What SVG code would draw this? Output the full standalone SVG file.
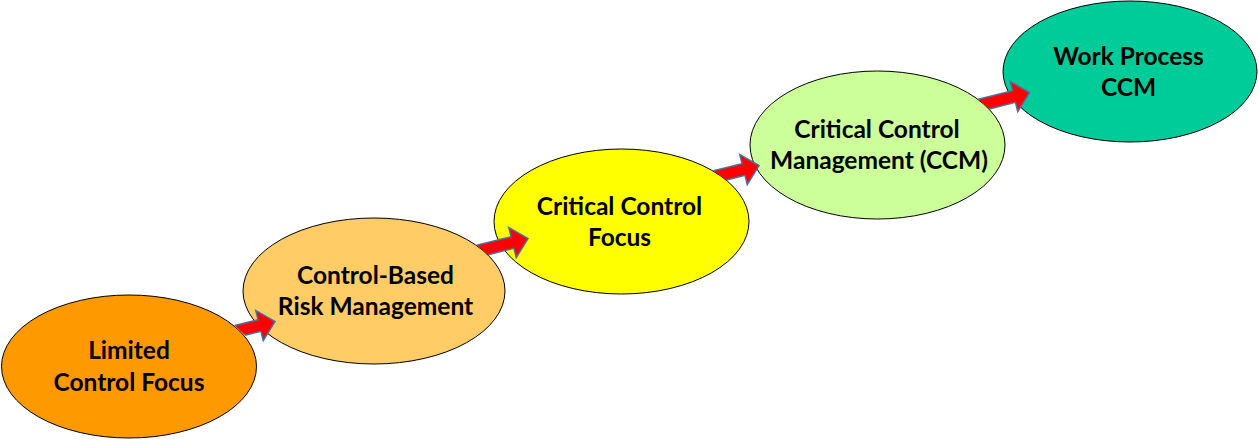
<svg xmlns="http://www.w3.org/2000/svg" width="1259" height="440" viewBox="0 0 1259 440">
<style>
.node ellipse{stroke:#000;stroke-width:1}
.node text{font-family:Lato,"Liberation Sans",sans-serif;font-weight:bold;font-size:24.5px;fill:#000;text-anchor:middle}
.arrow{fill:#FF0000;stroke:#4F6E9C;stroke-width:1.5;stroke-linejoin:miter}
</style>
<rect width="1259" height="440" fill="#fff"/>
<g id="n1" class="node">
<ellipse cx="129" cy="366.5" rx="127.5" ry="71.5" fill="#FF9900"/>
<text x="129" y="359">Limited</text>
<text x="129" y="391">Control Focus</text>
</g>
<g id="n2" class="node">
<ellipse cx="374" cy="291" rx="131" ry="73" fill="#FFCC66"/>
<text x="375.5" y="283.5">Control-Based</text>
<text x="375.5" y="315">Risk Management</text>
</g>
<g id="n3" class="node">
<ellipse cx="621.5" cy="221.5" rx="127.5" ry="72.5" fill="#FFFF00"/>
<text x="619.5" y="215">Critical Control</text>
<text x="619.5" y="246">Focus</text>
</g>
<g id="n4" class="node">
<ellipse cx="877.5" cy="145" rx="127.5" ry="74" fill="#CCFF99"/>
<text x="877" y="138">Critical Control</text>
<text x="879" y="169">Management (CCM)</text>
</g>
<g id="n5" class="node">
<ellipse cx="1130" cy="71.5" rx="127" ry="70.5" fill="#00CC99"/>
<text x="1128.5" y="64.5">Work Process</text>
<text x="1128.5" y="96">CCM</text>
</g>
<g id="connectors">
<path class="arrow" d="M234.7,325.5 L258.05,319.68 L255.75,310.46 L275.02,321.63 L263.25,340.54 L260.95,331.32 L245,335.3"/>
<path class="arrow" d="M476.6,245.3 L511.05,236.68 L508.75,227.46 L528.02,238.63 L516.25,257.54 L513.95,248.32 L488.2,254.7"/>
<path class="arrow" d="M713.4,170.8 L742.05,163.68 L739.75,154.46 L759.02,165.63 L747.25,184.54 L744.95,175.32 L726.5,179.9"/>
<path class="arrow" d="M978.3,99.2 L1012.55,90.68 L1010.25,81.46 L1029.52,92.63 L1017.75,111.54 L1015.45,102.32 L989.3,108.9"/>
</g>
</svg>
